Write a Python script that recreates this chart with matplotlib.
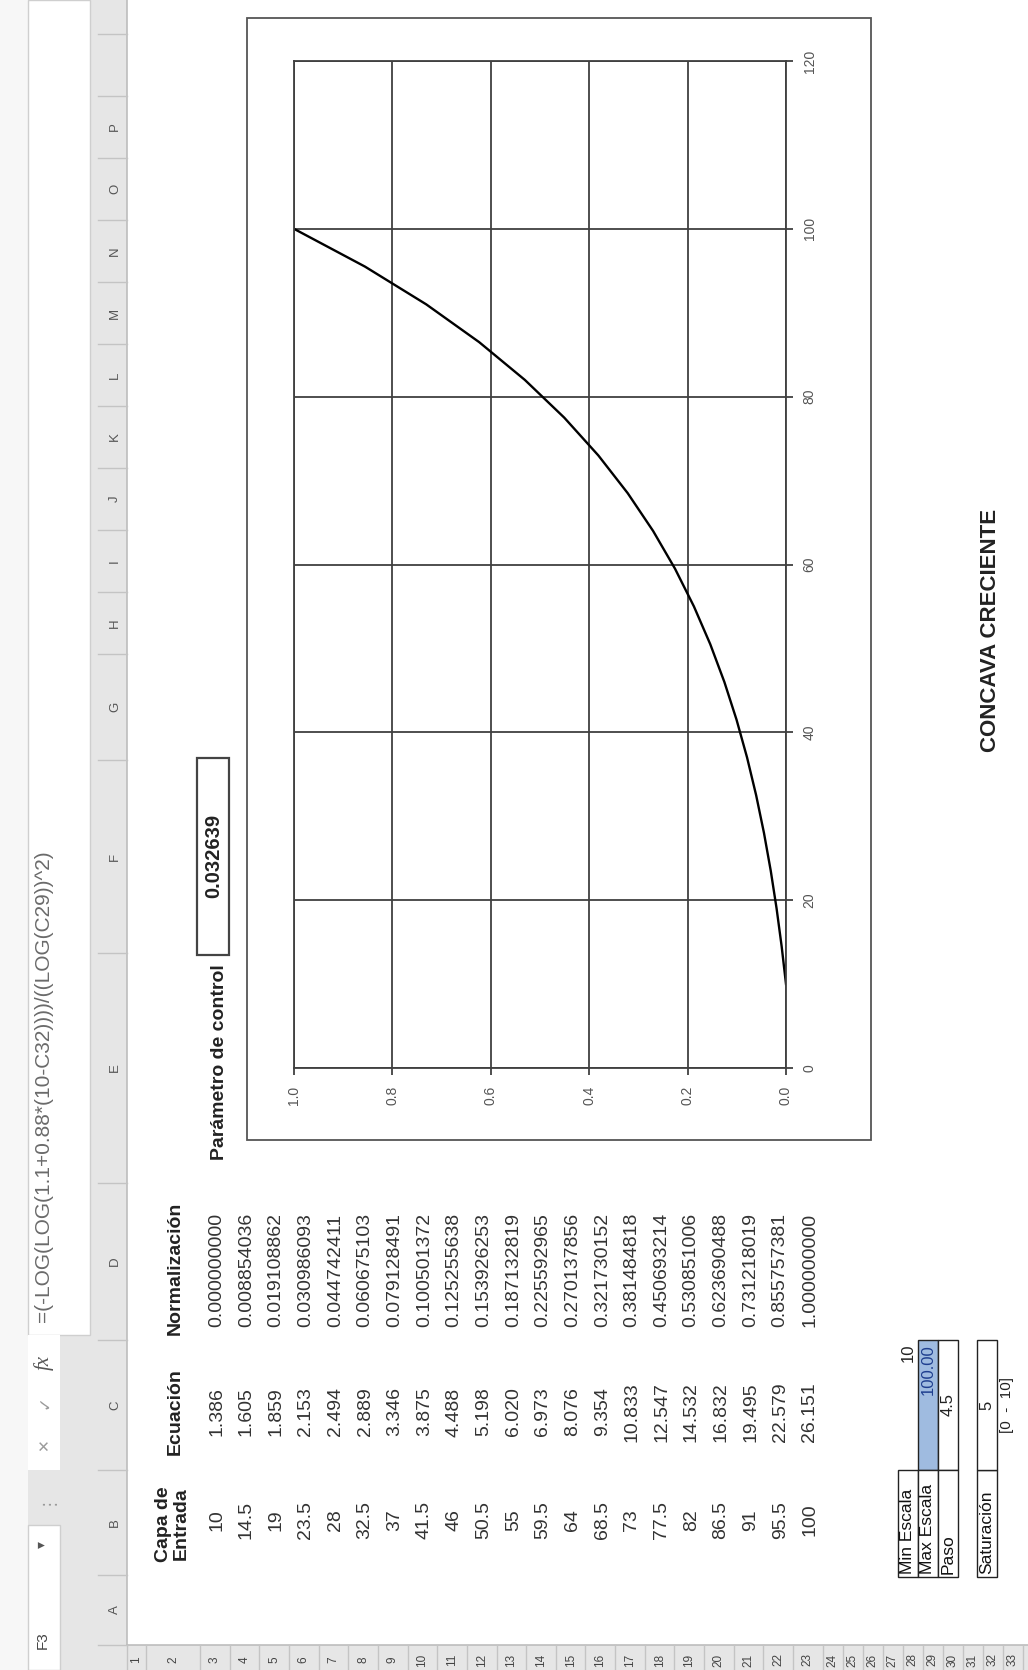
import matplotlib.pyplot as plt
from matplotlib.patches import Rectangle

plt.rcParams['font.family'] = ['Liberation Sans', 'DejaVu Sans']

# hoja de calculo: capa de entrada, ecuacion y normalizacion
entrada = [10, 14.5, 19, 23.5, 28, 32.5, 37, 41.5, 46, 50.5, 55,
           59.5, 64, 68.5, 73, 77.5, 82, 86.5, 91, 95.5, 100]
ecuacion = [1.386, 1.605, 1.859, 2.153, 2.494, 2.889, 3.346, 3.875, 4.488,
            5.198, 6.020, 6.973, 8.076, 9.354, 10.833, 12.547, 14.532,
            16.832, 19.495, 22.579, 26.151]
normalizacion = [0.000000000, 0.008854036, 0.019108862, 0.030986093,
                 0.044742411, 0.060675103, 0.079128491, 0.100501372,
                 0.125255638, 0.153926253, 0.187132819, 0.225592965,
                 0.270137856, 0.321730152, 0.381484818, 0.450693214,
                 0.530851006, 0.623690488, 0.731218019, 0.855757381,
                 1.000000000]

formula = '=(-LOG(LOG(1.1+0.88*(10-C32))))/((LOG(C29))^2)'
parametro = '0.032639'
min_escala = '10'
max_escala = '100.00'
paso = '4.5'
saturacion = '5'
rango = '[0  -  10]'
titulo = 'CONCAVA CRECIENTE'

x_ticks = [1.0, 0.8, 0.6, 0.4, 0.2, 0.0]
y_ticks = [0, 20, 40, 60, 80, 100, 120]

columnas = list('ABCDEFGHIJKLMNOP')

W, H = 1028, 1670
fig = plt.figure(figsize=(W / 100, H / 100), dpi=100)
bg = fig.add_axes([0, 0, 1, 1])
bg.set_xlim(0, W)
bg.set_ylim(H, 0)
bg.axis('off')

GRIS = '#e6e6e6'


def rot(x, y, s, **kw):
    kw.setdefault('ha', 'center')
    kw.setdefault('va', 'center')
    bg.text(x, y, s, rotation=90, **kw)


# barra de formulas y encabezados
bg.add_patch(Rectangle((0, 0), 127, H, color=GRIS, lw=0))
bg.add_patch(Rectangle((0, 0), 28, H, color='#f7f7f7', lw=0))
bg.add_patch(Rectangle((28, 0), 62, 1335, fc='white', ec='#cfcfcf', lw=1))
bg.add_patch(Rectangle((28, 1335), 32, 135, fc='white', lw=0))
bg.add_patch(Rectangle((28, 1525), 32, 145, fc='white', ec='#cfcfcf', lw=1))
bg.plot([127, 127], [0, 1645], color='#bdbdbd', lw=1.2)
bg.add_patch(Rectangle((127, 1645), W - 127, 25, color=GRIS, lw=0))
bg.plot([127, W], [1645, 1645], color='#bdbdbd', lw=1.2)

rot(44, 1322, formula, va='bottom', fontsize=15, color='#6a6a6a')
rot(44, 1362, 'fx', fontsize=15, color='#555555', style='italic',
    family=['Liberation Serif', 'DejaVu Serif'])
rot(44, 1402, '\u2713', fontsize=12, color='#9a9a9a', family=['DejaVu Sans'])
rot(44, 1445, '\u2715', fontsize=11, color='#9a9a9a', family=['DejaVu Sans'])
rot(44, 1497, '\u22ee', fontsize=12, color='#9a9a9a', family=['DejaVu Sans'])
rot(41, 1545, '\u25be', fontsize=10, color='#555555', family=['DejaVu Sans'])
rot(43, 1640, 'F3', fontsize=11, color='#444444')

# letras de columna
col_bordes = [1645, 1575, 1470, 1340, 1183, 953, 760, 654, 592, 530, 468,
              406, 344, 282, 220, 158, 96, 34]
for i, letra in enumerate(columnas):
    centro = (col_bordes[i] + col_bordes[i + 1]) / 2
    rot(115, centro, letra, fontsize=9.5, color='#555555')
for b in col_bordes:
    bg.plot([98, 127], [b, b], color='#c4c4c4', lw=1)

# numeros de fila
fil_bordes = [127, 146, 200] + [200 + 29.65 * k for k in range(1, 22)]
fil_bordes += [fil_bordes[-1] + 20 * k for k in range(1, 11)]
for i in range(len(fil_bordes) - 1):
    centro = (fil_bordes[i] + fil_bordes[i + 1]) / 2
    rot(centro, 1660, str(i + 1), fontsize=8.5, color='#444444')
for b in fil_bordes:
    bg.plot([b, b], [1645, H], color='#c4c4c4', lw=1)

# tabla de datos
fila_x = [(fil_bordes[i] + fil_bordes[i + 1]) / 2 + 2 for i in range(2, 23)]
rot(172, 1524, 'Capa de\nEntrada', fontsize=14, weight='bold',
    linespacing=1.05, color='#222222')
rot(175, 1412, 'Ecuaci\u00f3n', fontsize=14, weight='bold', color='#222222')
rot(175, 1268, 'Normalizaci\u00f3n', fontsize=14, weight='bold', color='#222222')
for x, e, c, n in zip(fila_x, entrada, ecuacion, normalizacion):
    rot(x, 1520, f'{e:g}', fontsize=14, color='#333333')
    rot(x, 1412, f'{c:.3f}', fontsize=14, color='#333333')
    rot(x, 1270, f'{n:.9f}', fontsize=14, color='#333333')

# parametro de control
rot(220, 1062, 'Par\u00e1metro de control', fontsize=14, weight='bold',
    color='#222222')
bg.add_patch(Rectangle((197, 758), 32, 197, fc='white', ec='#444444', lw=1.6))
rot(214, 856, parametro, fontsize=14.5, weight='bold', color='#222222')

# marco del grafico
bg.add_patch(Rectangle((247, 18), 624, 1122, fc='white', ec='#555555', lw=1.3))

ax = fig.add_axes([294 / W, 1 - 1068 / H, 492 / W, 1007 / H])
ax.plot(normalizacion, entrada, color='black', lw=1.7)
ax.set_xlim(1.0, 0.0)
ax.set_ylim(0, 120)
ax.set_xticks(x_ticks)
ax.set_xticklabels([f'{v:.1f}' for v in x_ticks])
ax.set_yticks(y_ticks)
ax.yaxis.tick_right()
ax.grid(True, color='#404040', lw=1.3)
for s in ax.spines.values():
    s.set_color('#404040')
    s.set_linewidth(1.3)
ax.tick_params(colors='#404040', labelcolor='#555555', length=5, width=1.3,
               labelsize=10)
ax.tick_params(axis='x', labelrotation=90, pad=8)
ax.tick_params(axis='y', labelrotation=90, pad=7)
for t in ax.get_yticklabels():
    t.set_verticalalignment('center')

# parametros de escala
bg.add_patch(Rectangle((918, 1340), 20, 130, fc='#9fbbe0', ec='#222222', lw=1))
bg.add_patch(Rectangle((938, 1340), 20, 130, fc='white', ec='#222222', lw=1))
for x0, txt in [(898, 'Min Escala'), (918, 'Max Escala'), (938, 'Paso')]:
    bg.add_patch(Rectangle((x0, 1470), 20, 107, fc='white', ec='#222222', lw=1))
    rot(x0 + 10, 1574, txt, va='bottom', fontsize=12.5, color='#111111')
rot(908, 1344, min_escala, va='top', fontsize=12, color='#222222')
rot(928, 1344, max_escala, va='top', fontsize=12, color='#1f3f8f')
rot(948, 1405, paso, fontsize=12, color='#222222')

bg.add_patch(Rectangle((977, 1470), 20, 107, fc='white', ec='#222222', lw=1))
bg.add_patch(Rectangle((977, 1340), 20, 130, fc='white', ec='#222222', lw=1))
rot(987, 1574, 'Saturaci\u00f3n', va='bottom', fontsize=12.5, color='#111111')
rot(987, 1405, saturacion, fontsize=12, color='#222222')
rot(1007, 1405, rango, fontsize=11, color='#222222')

rot(990, 630, titulo, fontsize=16, weight='bold', color='#222222')

fig.savefig('out.png', dpi=100)
